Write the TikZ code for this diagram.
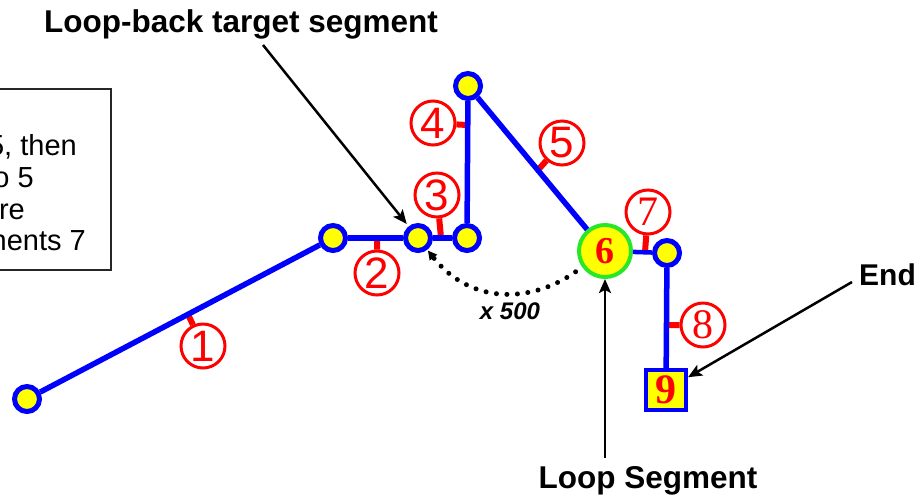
\documentclass[tikz,border=0pt]{standalone}
\usepackage{fontspec}
\setmainfont{Liberation Sans}
\newfontfamily\numserif{Liberation Serif}
\usetikzlibrary{arrows.meta,calc}
\definecolor{segblue}{RGB}{0,0,255}
\definecolor{ptyellow}{RGB}{255,255,0}
\definecolor{lblred}{RGB}{255,0,0}
\definecolor{loopgreen}{RGB}{40,230,40}
\begin{document}
\begin{tikzpicture}[x=1pt,y=-1pt,
  pt/.style={circle,draw=segblue,fill=ptyellow,line width=5pt,minimum size=25pt,inner sep=0pt},
  seg/.style={draw=segblue,line width=5.5pt},
  lbl/.style={circle,draw=lblred,line width=3pt,fill=white,text=lblred,minimum size=44pt,inner sep=0pt,font=\fontsize{44}{44}\selectfont},
  lbls/.style={lbl,font=\numserif\fontsize{42}{42}\selectfont},
  stem/.style={draw=lblred,line width=6pt},
  note/.style={font=\bfseries\fontsize{31.5}{36}\selectfont,inner sep=0pt},
  arr/.style={draw=black,line width=2.5pt,-{Stealth[length=14pt,width=12pt,inset=3pt]}},
  boxtext/.style={font=\fontsize{29}{32}\selectfont,inner sep=0pt,anchor=base east},
  loopdots/.style={draw=black,line width=5pt,line cap=round,dash pattern=on 0pt off 10.5pt,
    -{Triangle[length=9pt,width=9pt]}}]

\useasboundingbox (0,0) rectangle (923,499);

% text box (cut off at the left)
\draw[line width=1.2pt,draw=black!85] (-5,89) rectangle (111,270);
\node[boxtext] (t1) at (77,155) {5, then};
\node[boxtext] (t2) at (34,187) {o 5};
\node[boxtext] (t3) at (25,219) {re};
\node[boxtext] (t4) at (86,250) {nents 7};

% points
\node[pt] (n1) at (27,399) {};
\node[pt] (n2) at (333,238) {};
\node[pt] (n3) at (418,238) {};
\node[pt] (n4) at (467,238) {};
\node[pt] (n5) at (468,86) {};
\node[circle,draw=loopgreen,fill=ptyellow,line width=4pt,minimum size=52pt,inner sep=0pt,
      text=lblred,font=\numserif\bfseries\fontsize{38}{38}\selectfont] (n6) at (605,251) {6};
\node[pt] (n7) at (667,253) {};
\node[rectangle,draw=segblue,fill=ptyellow,line width=4pt,minimum size=40pt,inner sep=0pt,
      text=lblred,font=\numserif\bfseries\fontsize{42}{42}\selectfont] (n9) at (666,390) {9};

% attachment points on segments
\path (n1.center) -- (n2.center) coordinate[pos=0.526] (c1);
\path (n2.center) -- (n3.center) coordinate[pos=0.518] (c2);
\path (n3.center) -- (n4.center) coordinate[pos=0.47] (c3);
\path (n4.center) -- (n5.center) coordinate[pos=0.743] (c4);
\path (n5.center) -- (n6.center) coordinate[pos=0.51] (c5);
\path (n6.center) -- (n7.center) coordinate[pos=0.645] (c7);
\path (n7.center) -- (n9.center) coordinate[pos=0.526] (c8);

% segment labels
\node[lbl] (l1) at (203,346) {1};
\node[lbl] (l2) at (377,273) {2};
\node[lbl] (l3) at (437,195) {3};
\node[lbl] (l4) at (433,123) {4};
\node[lbl] (l5) at (562,143) {5};
\node[lbls] (l7) at (648,212) {7};
\node[lbls] (l8) at (703,325) {8};

% stems
\draw[stem] (c1) -- (l1);
\draw[stem] (c2) -- (l2);
\draw[stem] (c3) -- (l3);
\draw[stem] (c4) -- (l4);
\draw[stem] (c5) -- (l5);
\draw[stem] (c7) -- (l7);
\draw[stem] (c8) -- (l8);

% segments
\draw[seg] (n1) -- (n2);
\draw[seg] (n2) -- (n3);
\draw[seg] (n3) -- (n4);
\draw[seg] (n4) -- (n5);
\draw[seg] (n5) -- (n6);
\draw[seg,line width=4.5pt] (n6) -- (n7);
\draw[seg] (n7) -- (n9);

% loop-back dotted arrow
\draw[loopdots,shorten <=8pt,shorten >=1pt] (n6) .. controls (530,304) and (470,304) .. (n3);
\node[font=\bfseries\itshape\fontsize{24}{28}\selectfont,inner sep=0pt] (x500) at (510,311) {x 500};

% annotations
\node[note,anchor=base] (lbt) at (241,32) {Loop-back target segment};
\coordinate (lbtstart) at (263,45);
\draw[arr,shorten >=3pt] (lbtstart) -- (n3);

\node[note,anchor=base] (ls) at (648,488) {Loop Segment};
\coordinate (lsstart) at (605,458);
\draw[arr] (lsstart) -- (n6);

\node[note,anchor=base west,font=\bfseries\fontsize{30}{36}\selectfont] (endl) at (859,285) {End};
\coordinate (endstart) at (852,282);
\draw[arr] (endstart) -- (n9);
\end{tikzpicture}
\end{document}
